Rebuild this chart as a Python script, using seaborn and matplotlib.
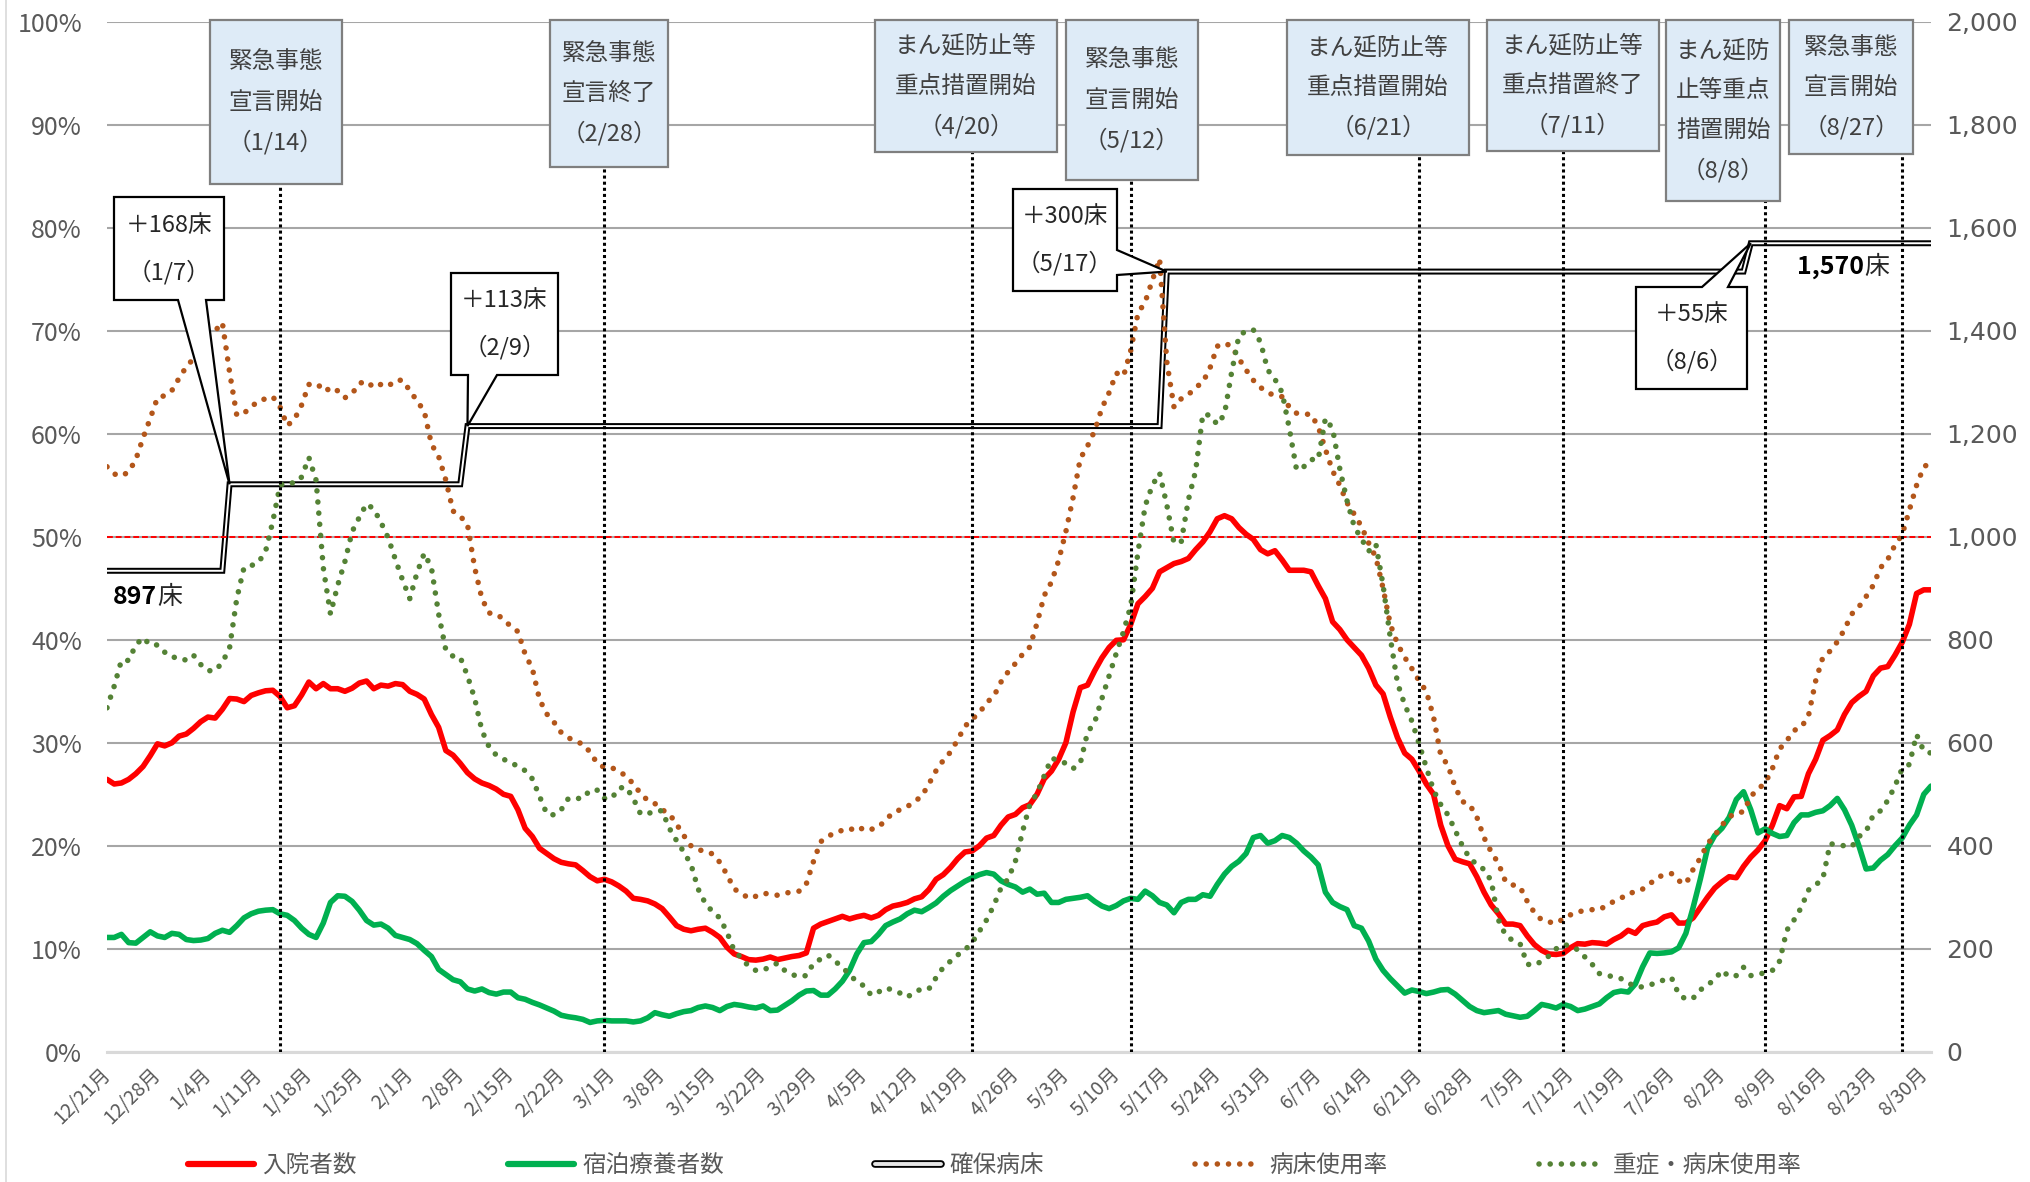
import numpy as np
import pandas as pd
import matplotlib
matplotlib.use("Agg")
import matplotlib.pyplot as plt
import matplotlib.dates as mdates
from matplotlib.lines import Line2D
from matplotlib.patches import Rectangle, Polygon
from matplotlib.legend_handler import HandlerTuple
import seaborn as sns

# ---------------- data ----------------
start_date = "2020-12-21"

# 入院者数 (daily, persons)
inpatients = [
    529, 520, 522, 529, 540, 554, 575, 598, 594, 600,
    613, 617, 628, 641, 650, 648, 665, 686, 685, 680,
    692, 697, 701, 702, 690, 668, 672, 693, 718, 705,
    715, 705, 705, 700, 706, 716, 720, 705, 712, 710,
    715, 713, 700, 694, 685, 655, 630, 585, 576, 560,
    542, 530, 522, 517, 510, 500, 496, 470, 434, 418,
    395, 385, 375, 368, 365, 363, 352, 340, 332, 335,
    330, 322, 312, 298, 296, 293, 287, 278, 262, 245,
    238, 235, 238, 240, 232, 222, 203, 190, 185, 179,
    178, 180, 184, 179, 182, 185, 187, 192, 240, 248,
    253, 258, 263, 258, 262, 265, 260, 265, 276, 283,
    286, 290, 297, 301, 315, 335, 344, 358, 375, 388,
    390, 400, 415, 420, 440, 456, 461, 474, 480, 500,
    530, 545, 568, 600, 660, 707, 712, 740, 765, 785,
    799, 800, 830, 870, 884, 900, 932, 940, 948, 952,
    958, 975, 990, 1010, 1035, 1041, 1035, 1018, 1005, 995,
    975, 967, 973, 955, 935, 935, 935, 932, 905, 880,
    835, 820, 800, 785, 770, 745, 712, 695, 650, 610,
    580, 568, 545, 520, 500, 440, 400, 374, 369, 365,
    340, 310, 285, 268, 248, 248, 245, 225, 208, 197,
    190, 189, 191, 202, 210, 209, 212, 211, 209, 218,
    225, 236, 230, 245, 249, 252, 262, 266, 250, 250,
    260, 280, 300, 318, 330, 340, 338, 360, 378, 392,
    410, 440, 478, 472, 495, 496, 540, 568, 605, 614,
    625, 655, 678, 690, 700, 730, 745, 748, 770, 795,
    830, 890, 897, 897,
]

# 宿泊療養者数 (daily, persons)
lodging = [
    222, 222, 228, 212, 211, 222, 233, 225, 222, 230,
    228, 218, 216, 217, 220, 230, 236, 232, 245, 260,
    268, 273, 275, 276, 268, 265, 255, 240, 228, 222,
    250, 290, 303, 302, 292, 275, 255, 246, 248, 240,
    226, 222, 218, 210, 197, 185, 160, 150, 140, 136,
    122, 118, 122, 115, 112, 116, 116, 105, 102, 96,
    91, 85, 79, 71, 68, 66, 63, 57, 60, 61,
    60, 60, 60, 58, 60, 66, 76, 72, 69, 74,
    78, 80, 86, 89, 86, 80, 88, 92, 90, 87,
    85, 89, 80, 81, 90, 99, 110, 118, 119, 110,
    110, 122, 137, 158, 190, 212, 214, 228, 245, 252,
    258, 268, 275, 272, 280, 289, 302, 313, 322, 331,
    338, 344, 348, 345, 332, 325, 320, 310, 316, 306,
    308, 290, 290, 296, 298, 300, 303, 292, 283, 278,
    284, 293, 298, 296, 312, 303, 290, 285, 270, 290,
    296, 296, 305, 302, 325, 345, 360, 370, 385, 416,
    420, 405, 410, 420, 416, 405, 390, 378, 363, 310,
    290, 282, 276, 245, 240, 215, 180, 158, 142, 128,
    114, 120, 117, 113, 116, 120, 121, 112, 100, 88,
    80, 76, 78, 80, 73, 70, 67, 69, 80, 92,
    89, 85, 92, 88, 80, 83, 88, 93, 105, 115,
    118, 116, 132, 165, 192, 191, 192, 194, 202, 230,
    280, 335, 395, 420, 434, 455, 490, 505, 470, 425,
    433, 424, 418, 420, 445, 460, 460, 465, 468, 478,
    492, 470, 440, 400, 355, 357, 372, 383, 400, 415,
    440, 460, 500, 516,
]

# 病床使用率 (%)
bed_use_rate = [
    56.8, 56.1, 55.9, 56.3, 57.5, 59.6, 61.5, 63.5, 63.7, 64.2,
    65.4, 66.5, 67.3, 68.3, 69.8, 70.0, 70.8, 66.0, 61.8, 62.0,
    62.6, 63.2, 63.4, 63.6, 62.6, 60.8, 61.4, 62.8, 64.8, 64.5,
    64.8, 64.0, 64.2, 63.5, 63.9, 64.9, 65.1, 64.5, 64.8, 64.6,
    65.2, 65.2, 64.2, 63.2, 62.2, 59.0, 57.8, 55.5, 52.5, 52.0,
    51.2, 47.0, 44.0, 42.6, 42.5, 42.0, 41.3, 40.8, 38.6, 37.2,
    34.2, 32.8, 32.0, 31.0, 30.5, 30.1, 29.9, 29.1, 28.0, 27.6,
    27.6, 27.2, 26.8, 26.0, 25.1, 24.4, 24.1, 23.5, 23.1, 22.1,
    21.0, 20.0, 19.6, 19.5, 19.2, 18.4, 17.2, 15.8, 15.4, 14.9,
    15.1, 15.4, 15.3, 15.2, 15.4, 15.5, 15.6, 16.3, 18.5, 20.4,
    20.9, 21.3, 21.5, 21.7, 21.4, 21.8, 21.6, 21.8, 22.5, 23.2,
    23.5, 23.8, 24.3, 24.8, 26.0, 27.3, 28.3, 29.1, 30.3, 31.6,
    32.3, 32.9, 33.9, 34.5, 35.9, 36.9, 37.7, 38.6, 39.3, 41.6,
    44.3, 45.6, 47.7, 50.5, 53.8, 57.6, 58.8, 60.3, 62.5, 64.0,
    65.9, 65.6, 68.1, 71.7, 72.8, 74.9, 77.0, 67.0, 62.6, 63.4,
    63.8, 64.5, 65.0, 66.4, 68.5, 68.8, 68.5, 67.3, 66.2, 65.2,
    64.5, 64.0, 63.7, 63.6, 62.6, 62.0, 61.9, 61.9, 60.7, 58.5,
    56.4, 55.0, 53.3, 52.2, 51.0, 49.4, 48.0, 45.0, 41.5, 39.6,
    38.3, 37.2, 36.0, 35.0, 32.5, 28.8, 27.8, 25.7, 24.3, 24.0,
    22.8, 20.8, 19.4, 18.3, 16.5, 16.2, 16.0, 14.6, 13.5, 12.8,
    12.6, 12.5, 12.9, 13.3, 13.6, 13.7, 13.8, 13.8, 14.2, 14.6,
    14.9, 15.4, 15.5, 15.8, 16.3, 16.9, 17.2, 17.3, 16.6, 16.3,
    17.7, 18.8, 20.2, 21.0, 22.0, 22.8, 23.2, 23.3, 24.8, 25.5,
    26.1, 27.5, 29.4, 30.2, 31.2, 31.5, 32.6, 36.0, 38.3, 38.9,
    39.8, 41.0, 42.5, 43.2, 44.2, 45.3, 47.0, 47.8, 49.2, 50.2,
    52.6, 55.0, 56.8, 57.2,
]

# 重症・病床使用率 (%)
severe_bed_rate = [
    33.4, 35.5, 38.0, 38.0, 39.5, 40.2, 39.5, 39.5, 38.8, 38.3,
    38.3, 38.0, 38.5, 37.6, 37.0, 37.0, 37.8, 39.2, 44.0, 47.0,
    47.2, 47.5, 48.6, 51.5, 55.0, 55.3, 55.2, 55.8, 57.7, 55.5,
    47.0, 42.5, 45.3, 47.6, 50.5, 51.9, 53.2, 52.7, 51.4, 49.9,
    47.8, 45.8, 44.0, 46.5, 48.4, 47.0, 42.5, 39.0, 38.4, 38.3,
    36.5, 34.3, 31.2, 29.6, 28.8, 28.4, 28.1, 27.7, 27.3, 26.5,
    24.8, 23.1, 23.0, 23.5, 24.6, 24.6, 24.6, 25.4, 25.4, 24.6,
    24.6, 25.6, 25.7, 24.6, 23.1, 23.1, 23.4, 23.4, 21.7, 20.5,
    19.4, 18.2, 15.8, 14.4, 13.6, 13.0, 11.6, 9.8, 9.1, 8.3,
    7.9, 7.9, 8.3, 8.6, 7.9, 7.5, 7.3, 7.4, 8.6, 9.0,
    9.4, 8.8, 8.2, 7.5, 6.8, 6.4, 5.5, 5.8, 6.2, 6.0,
    5.7, 5.3, 5.8, 6.1, 6.1, 7.2, 8.2, 8.8, 9.4, 9.9,
    10.6, 11.7, 12.8, 14.2, 15.9, 16.8, 18.5, 21.4, 24.0, 25.1,
    26.8, 28.5, 28.3, 28.0, 27.5, 28.0, 31.0, 32.0, 34.3, 36.5,
    38.7, 40.8, 43.3, 48.5, 53.0, 55.0, 56.2, 53.1, 49.4, 49.5,
    53.6, 56.4, 61.9, 61.8, 60.9, 61.9, 66.0, 69.5, 70.0, 70.1,
    68.9, 66.2, 65.3, 64.0, 60.5, 56.5, 56.8, 57.5, 57.5, 61.5,
    60.5, 56.6, 53.5, 51.0, 49.8, 48.6, 49.3, 45.3, 40.2, 35.8,
    33.7, 32.1, 29.9, 27.6, 25.4, 24.0, 23.0, 21.5, 20.0, 18.8,
    18.2, 17.7, 16.6, 12.8, 11.3, 10.8, 10.5, 8.5, 8.4, 8.8,
    9.3, 10.0, 10.4, 10.3, 9.9, 9.2, 8.5, 7.6, 7.4, 7.3,
    7.1, 6.7, 6.3, 6.3, 6.5, 6.7, 7.0, 7.2, 5.6, 5.1,
    5.2, 6.0, 6.5, 7.0, 7.9, 7.3, 7.4, 8.2, 7.4, 7.5,
    7.7, 7.9, 8.8, 11.8, 12.8, 14.0, 15.7, 16.2, 16.8, 20.2,
    20.1, 20.0, 19.9, 20.9, 21.4, 23.0, 23.4, 24.4, 25.8, 27.5,
    27.9, 30.8, 29.2, 29.0,
]

# 確保病床: level in force from each change date
bed_change_dates = ["2020-12-21", "2021-01-07", "2021-02-09", "2021-05-17", "2021-08-06"]
bed_levels = [934, 1102, 1215, 1515, 1570]
bed_change_labels = ["", "＋168床\n（1/7）", "＋113床\n（2/9）", "＋300床\n（5/17）", "＋55床\n（8/6）"]

event_dates = ["2021-01-14", "2021-02-28", "2021-04-20", "2021-05-12",
               "2021-06-21", "2021-07-11", "2021-08-08", "2021-08-27"]
event_labels = [
    "緊急事態\n宣言開始\n（1/14）",
    "緊急事態\n宣言終了\n（2/28）",
    "まん延防止等\n重点措置開始\n（4/20）",
    "緊急事態\n宣言開始\n（5/12）",
    "まん延防止等\n重点措置開始\n（6/21）",
    "まん延防止等\n重点措置終了\n（7/11）",
    "まん延防\n止等重点\n措置開始\n（8/8）",
    "緊急事態\n宣言開始\n（8/27）",
]

series_names = ["入院者数", "宿泊療養者数", "確保病床", "病床使用率", "重症・病床使用率"]

# ---------------- frame ----------------
dates = pd.date_range(start_date, periods=len(inpatients), freq="D")
change_idx = np.searchsorted(pd.to_datetime(bed_change_dates).values, dates.values, side="right") - 1
beds = np.asarray(bed_levels)[change_idx]

df = pd.DataFrame({
    "date": dates,
    "inpatients": inpatients,
    "lodging": lodging,
    "beds": beds,
    "bed_use": bed_use_rate,
    "severe": severe_bed_rate,
})

# ---------------- style ----------------
sns.set_theme(style="white")
plt.rcParams["font.family"] = ["Noto Sans CJK JP", "DejaVu Sans"]

RED = "#FF0000"
GREEN = "#00B050"
BROWN = "#B3561A"
OLIVE = "#548235"
GRID = "#A6A6A6"
TXT = "#595959"
BOX_TXT = "#404040"
DOTS = (0, (0.01, 2.0))
DOT_LW = 4.0

W, H = 2031, 1182
fig = plt.figure(figsize=(W / 100, H / 100), dpi=100)
fig.patch.set_facecolor("white")


def fx(x):
    return x / W


def fy(y):
    return 1 - y / H


# plot area in pixels: left 107, right 1931, top 21.8, bottom 1051.8
ax_cnt = fig.add_axes([fx(107), fy(1051.8), 1824 / W, 1030 / H])
ax_pct = ax_cnt.twinx()
ax_cnt.set_zorder(1)
ax_pct.set_zorder(2)
ax_cnt.patch.set_visible(False)
ax_pct.patch.set_visible(False)

# counts on the right-hand scale
sns.lineplot(data=df, x="date", y="inpatients", ax=ax_cnt, color=RED, lw=4.0,
             legend=False, errorbar=None)
sns.lineplot(data=df, x="date", y="lodging", ax=ax_cnt, color=GREEN, lw=4.0,
             legend=False, errorbar=None)
sns.lineplot(data=df, x="date", y="beds", ax=ax_cnt, color="black", lw=4.3,
             legend=False, errorbar=None, solid_joinstyle="miter")
sns.lineplot(data=df, x="date", y="beds", ax=ax_cnt, color="white", lw=1.4,
             legend=False, errorbar=None, solid_joinstyle="miter")

# rates on the left-hand scale, round-dot lines
sns.lineplot(data=df, x="date", y="bed_use", ax=ax_pct, color=BROWN, lw=DOT_LW,
             linestyle=DOTS, legend=False, errorbar=None)
sns.lineplot(data=df, x="date", y="severe", ax=ax_pct, color=OLIVE, lw=DOT_LW,
             linestyle=DOTS, legend=False, errorbar=None)
for ln in ax_pct.lines:
    ln.set_dash_capstyle("round")

ax_cnt.set_xlim(dates[0], dates[-1])
ax_cnt.set_ylim(0, 2000)
ax_pct.set_ylim(0, 100)
for a in (ax_cnt, ax_pct):
    a.set_xlabel("")
    a.set_ylabel("")
    for s in a.spines.values():
        s.set_visible(False)

ax_cnt.spines["bottom"].set_visible(True)
ax_cnt.spines["bottom"].set_color("#D9D9D9")
ax_cnt.spines["bottom"].set_linewidth(2.2)

# horizontal grid
ax_cnt.set_yticks(np.arange(0, 2001, 200))
ax_cnt.grid(True, axis="y", color=GRID, lw=1.5)
ax_cnt.grid(False, axis="x")
ax_cnt.set_axisbelow(True)

# y tick labels
ax_cnt.yaxis.tick_right()
ax_cnt.set_yticklabels([f"{v:,}" for v in range(0, 2001, 200)],
                       fontfamily=["DejaVu Sans"])
ax_cnt.tick_params(axis="y", length=0, pad=11, labelsize=18, labelcolor=TXT)
ax_pct.yaxis.tick_left()
ax_pct.set_yticks(np.arange(0, 101, 10))
ax_pct.set_yticklabels([f"{v}%" for v in range(0, 101, 10)])
ax_pct.tick_params(axis="y", length=0, pad=18, labelsize=18, labelcolor=TXT)
ax_pct.grid(False)

# weekly date ticks
tick_dates = pd.date_range(start_date, dates[-1], freq="7D")
ax_cnt.set_xticks(tick_dates)
ax_cnt.set_xticklabels([f"{d.month}/{d.day}月" for d in tick_dates], rotation=45,
                       ha="right", va="center", rotation_mode="anchor")
ax_cnt.tick_params(axis="x", length=6, width=1.4, color="#D9D9D9", pad=8,
                   labelsize=14, labelcolor=TXT)

# 50% reference line
ax_pct.axhline(50, color=RED, lw=1.4, linestyle=(0, (3, 1.5)), zorder=1)

# ---------------- event markers ----------------
event_box_px = [(210, 342, 184), (550, 668, 167), (875, 1057, 152), (1066, 1198, 180),
                (1287, 1469, 155), (1487, 1659, 151), (1666, 1780, 201), (1789, 1913, 154)]
BOX_TOP = 20
for date, label, (x0, x1, yb) in zip(event_dates, event_labels, event_box_px):
    ymax = (1051.8 - yb) / 1030
    ax_pct.axvline(mdates.date2num(pd.Timestamp(date)), ymin=0, ymax=ymax,
                   color="black", lw=2.2, linestyle=(0, (1, 1)), zorder=6)
    fig.add_artist(Rectangle((fx(x0), fy(yb)), (x1 - x0) / W, (yb - BOX_TOP) / H,
                             transform=fig.transFigure, facecolor="#DEEBF7",
                             edgecolor="#7F7F7F", lw=1.6, zorder=10))
    lines = label.split("\n")
    yc = (BOX_TOP + yb) / 2
    for i, line in enumerate(lines):
        yl = yc + (i - (len(lines) - 1) / 2) * 40
        fig.text(fx((x0 + x1) / 2), fy(yl), line, ha="center", va="center",
                 fontsize=17, color=BOX_TXT, zorder=11)

# ---------------- bed increase callouts ----------------
callout_layout = {
    1: ((114, 197, 224, 300), "bottom", (178, 206)),
    2: ((451, 273, 558, 375), "bottom", (468, 497)),
    3: ((1013, 189, 1117, 291), "right", (250, 275)),
    4: ((1636, 287, 1747, 389), "top", (1702, 1728)),
}


def callout_points(box, side, span, tip):
    x0, y0, x1, y1 = box
    a, b = span
    if side == "bottom":
        pts = [(x0, y0), (x1, y0), (x1, y1), (b, y1), tip, (a, y1), (x0, y1)]
    elif side == "right":
        pts = [(x0, y0), (x1, y0), (x1, a), tip, (x1, b), (x1, y1), (x0, y1)]
    else:
        pts = [(x0, y0), (a, y0), tip, (b, y0), (x1, y0), (x1, y1), (x0, y1)]
    return [(fx(x), fy(y)) for x, y in pts]


for i, (box, side, span) in callout_layout.items():
    disp = ax_cnt.transData.transform(
        (mdates.date2num(pd.Timestamp(bed_change_dates[i])), bed_levels[i]))
    tip = (disp[0], H - disp[1])
    fig.add_artist(Polygon(callout_points(box, side, span, tip), closed=True,
                           transform=fig.transFigure, facecolor="white",
                           edgecolor="black", lw=1.6, joinstyle="miter", zorder=10))
    x0, y0, x1, y1 = box
    yc = (y0 + y1) / 2
    for k, line in enumerate(bed_change_labels[i].split("\n")):
        fig.text(fx((x0 + x1) / 2), fy(yc + (k - 0.5) * 47), line, ha="center",
                 va="center", fontsize=17, color="#262626", zorder=11)

# bed totals at both ends
t_first = fig.text(fx(113), fy(597), "897", ha="left", va="center", fontsize=18,
                   fontweight="bold", color="black", zorder=11)
ax_cnt.annotate("床", xy=(1, 0.5), xycoords=t_first, ha="left", va="center",
                fontsize=18, color="#262626", annotation_clip=False, zorder=11)
t_last = fig.text(fx(1797), fy(267), f"{bed_levels[-1]:,}", ha="left", va="center",
                  fontsize=18, fontweight="bold", color="black", zorder=11)
ax_cnt.annotate("床", xy=(1, 0.5), xycoords=t_last, ha="left", va="center",
                fontsize=18, color="#262626", annotation_clip=False, zorder=11)

# ---------------- legend ----------------
handles = [
    Line2D([], [], color=RED, lw=4.5, solid_capstyle="round"),
    Line2D([], [], color=GREEN, lw=4.5, solid_capstyle="round"),
    (Line2D([], [], color="black", lw=5.5, solid_capstyle="round"),
     Line2D([], [], color="#E6E6E6", lw=2.8, solid_capstyle="round")),
    Line2D([], [], color=BROWN, lw=DOT_LW, linestyle=DOTS, dash_capstyle="round"),
    Line2D([], [], color=OLIVE, lw=DOT_LW, linestyle=DOTS, dash_capstyle="round"),
]
fig.legend(handles, series_names, loc="center", bbox_to_anchor=(fx(995), fy(1166)),
           ncol=5, frameon=False, fontsize=17, labelcolor=TXT, handlelength=2.8,
           handletextpad=0.35, columnspacing=6.4,
           handler_map={tuple: HandlerTuple(ndivide=1)})

# thin frame line on the left edge
fig.add_artist(Line2D([fx(6), fx(6)], [0, 1], transform=fig.transFigure,
                      color="#D9D9D9", lw=1.2))

fig.savefig("out.png", dpi=100, facecolor="white")
